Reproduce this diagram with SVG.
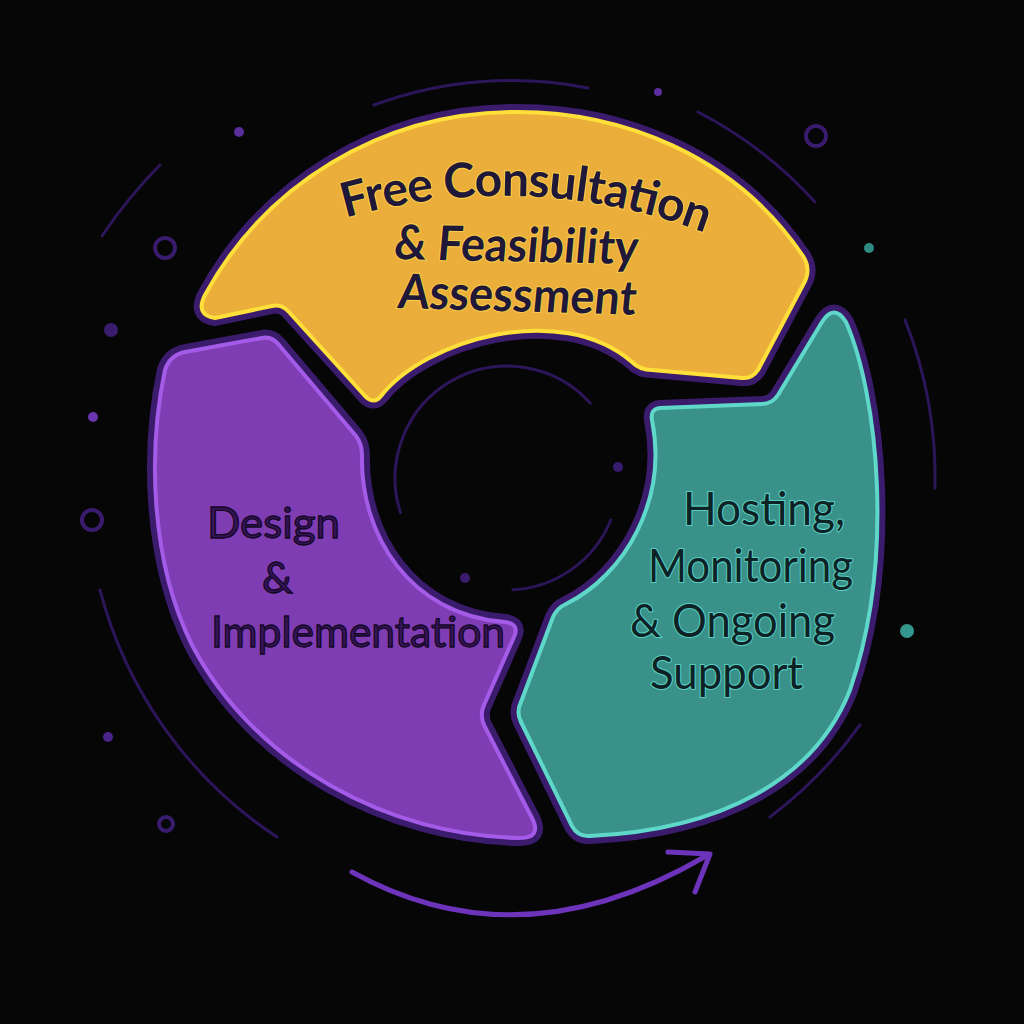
<svg xmlns="http://www.w3.org/2000/svg" width="1024" height="1024" viewBox="0 0 1024 1024">
  <defs>
    <style>
      .deco { fill: none; stroke: #2d1559; stroke-width: 3; stroke-linecap: round; }
      .ring { fill: none; stroke: #3a1c6e; stroke-width: 4; }
      .dot { fill: #3a1c6e; }
      .border { fill: none; stroke: #3b1c6c; stroke-width: 16; stroke-linejoin: round; }
      .lbl { font-family: Lato, "Noto Sans", "Liberation Sans", sans-serif; }
      .ylbl { fill: #1f1838; font-size: 48px; font-weight: 700; stroke: #f8cf4a; stroke-width: 2; paint-order: stroke; }
      .plbl { fill: #35145a; font-size: 43px; font-weight: 400; stroke: #13071f; stroke-width: 1.3; }
      .tlbl { fill: #0e2226; font-size: 46px; font-weight: 400; stroke: #56cfc2; stroke-width: 2.2; paint-order: stroke; }
    </style>
  </defs>

  <rect x="0" y="0" width="1024" height="1024" fill="#060606"/>

  <g id="decorations">
    <path class="deco" d="M 374,105 A 398,398 0 0 1 588,88"/>
    <path class="deco" d="M 698,112 A 413,413 0 0 1 815,202"/>
    <path class="deco" d="M 905,320 A 428,428 0 0 1 935,488"/>
    <path class="deco" d="M 860,725 A 430,430 0 0 1 770,817"/>
    <path class="deco" d="M 102,236 A 470,470 0 0 1 160,165"/>
    <path class="deco" d="M 100,590 A 424,424 0 0 0 277,837"/>
    <path class="deco" stroke-width="4" d="M 400.5,512.6 A 112,112 0 0 1 590.2,403.1"/>
    <path class="deco" stroke-width="4" d="M 610.8,520 A 112,112 0 0 1 512.9,589.8"/>
    <circle class="ring" cx="816" cy="136" r="10"/>
    <circle class="ring" cx="165" cy="248" r="10"/>
    <circle class="ring" cx="92" cy="520" r="10"/>
    <circle class="ring" cx="166" cy="824" r="7"/>
    <circle cx="239" cy="132" r="5" fill="#5a2d9c"/>
    <circle cx="658" cy="92" r="4" fill="#5a2d9c"/>
    <circle class="dot" cx="111" cy="330" r="7"/>
    <circle cx="93" cy="417" r="5" fill="#6a35b0"/>
    <circle cx="108" cy="737" r="5" fill="#4a2488"/>
    <circle cx="869" cy="248" r="5" fill="#2f8a82"/>
    <circle cx="907" cy="631" r="7" fill="#34968c"/>
    <circle class="dot" cx="618" cy="467" r="5"/>
    <circle class="dot" cx="465" cy="578" r="5"/>
  </g>

  <g id="node-consultation">
    <path class="border" d="M 215,318 L 272,306 Q 282,304 289,312 L 365,396 Q 374,405 381,396 C 425,340 560,300 632,362 Q 640,370 652,370 L 742,378 Q 752,379 758,370 L 803,285 Q 812,270 803,256 C 735,155 620,110 510,112 C 380,114 265,185 205,295 Q 195,315 215,318 Z"/>
    <path d="M 215,318 L 272,306 Q 282,304 289,312 L 365,396 Q 374,405 381,396 C 425,340 560,300 632,362 Q 640,370 652,370 L 742,378 Q 752,379 758,370 L 803,285 Q 812,270 803,256 C 735,155 620,110 510,112 C 380,114 265,185 205,295 Q 195,315 215,318 Z" fill="#ecae3a" stroke="#ffdf3a" stroke-width="4" stroke-linejoin="round"/>
    <path id="arc1" d="M 238,261 A 571,571 0 0 1 808.5,284.6" fill="none"/>
    <text class="lbl ylbl"><textPath href="#arc1" startOffset="50%" text-anchor="middle" textLength="366" lengthAdjust="spacing">Free Consultation</textPath></text>
    <text class="lbl ylbl" transform="translate(393,259) rotate(1.2) skewX(-4)" x="0" y="0" textLength="244" lengthAdjust="spacingAndGlyphs">&amp; Feasibility</text>
    <text class="lbl ylbl" transform="translate(397,308) rotate(1.6) skewX(-4)" x="0" y="0" textLength="238" lengthAdjust="spacingAndGlyphs">Assessment</text>
  </g>

  <g id="node-design">
    <path class="border" d="M 185,352 L 262,338 Q 272,336 279,345 L 356,436 Q 362,444 362,455 C 360,535 410,615 505,622 Q 520,624 514,637 L 484,705 Q 479,716 485,727 L 532,818 Q 542,838 520,838 C 390,836 255,765 192,645 C 150,560 148,450 165,370 Q 170,355 185,352 Z"/>
    <path d="M 185,352 L 262,338 Q 272,336 279,345 L 356,436 Q 362,444 362,455 C 360,535 410,615 505,622 Q 520,624 514,637 L 484,705 Q 479,716 485,727 L 532,818 Q 542,838 520,838 C 390,836 255,765 192,645 C 150,560 148,450 165,370 Q 170,355 185,352 Z" fill="#7f3db3" stroke="#a45ce8" stroke-width="4" stroke-linejoin="round"/>
    <text class="lbl plbl" x="207" y="538" textLength="133" lengthAdjust="spacingAndGlyphs">Design</text>
    <text class="lbl plbl" x="262" y="593">&amp;</text>
    <text class="lbl plbl" x="211" y="647" textLength="294" lengthAdjust="spacingAndGlyphs">Implementation</text>
  </g>

  <g id="node-hosting">
    <path class="border" d="M 660,408 L 762,404 Q 772,404 778,395 L 822,322 Q 834,303 846,322 C 878,395 895,560 850,690 C 815,780 720,830 590,836 Q 578,837 572,826 L 521,722 Q 516,712 521,702 L 553,617 Q 557,608 566,604 C 625,575 668,500 652,420 Q 650,409 660,408 Z"/>
    <path d="M 660,408 L 762,404 Q 772,404 778,395 L 822,322 Q 834,303 846,322 C 878,395 895,560 850,690 C 815,780 720,830 590,836 Q 578,837 572,826 L 521,722 Q 516,712 521,702 L 553,617 Q 557,608 566,604 C 625,575 668,500 652,420 Q 650,409 660,408 Z" fill="#3a918a" stroke="#5fd8ca" stroke-width="4" stroke-linejoin="round"/>
    <text class="lbl tlbl" x="683" y="525" textLength="162" lengthAdjust="spacingAndGlyphs">Hosting,</text>
    <text class="lbl tlbl" x="648" y="582" textLength="205" lengthAdjust="spacingAndGlyphs">Monitoring</text>
    <text class="lbl tlbl" x="630" y="637" textLength="205" lengthAdjust="spacingAndGlyphs">&amp; Ongoing</text>
    <text class="lbl tlbl" x="650" y="689" textLength="153" lengthAdjust="spacingAndGlyphs">Support</text>
  </g>

  <g id="connectors">
    <path d="M 352,872 Q 520,965 706,856" fill="none" stroke="#6d33bb" stroke-width="5" stroke-linecap="round"/>
    <polyline points="668,852 710,854 695,892" fill="none" stroke="#6d33bb" stroke-width="5" stroke-linecap="round" stroke-linejoin="round"/>
  </g>
</svg>
